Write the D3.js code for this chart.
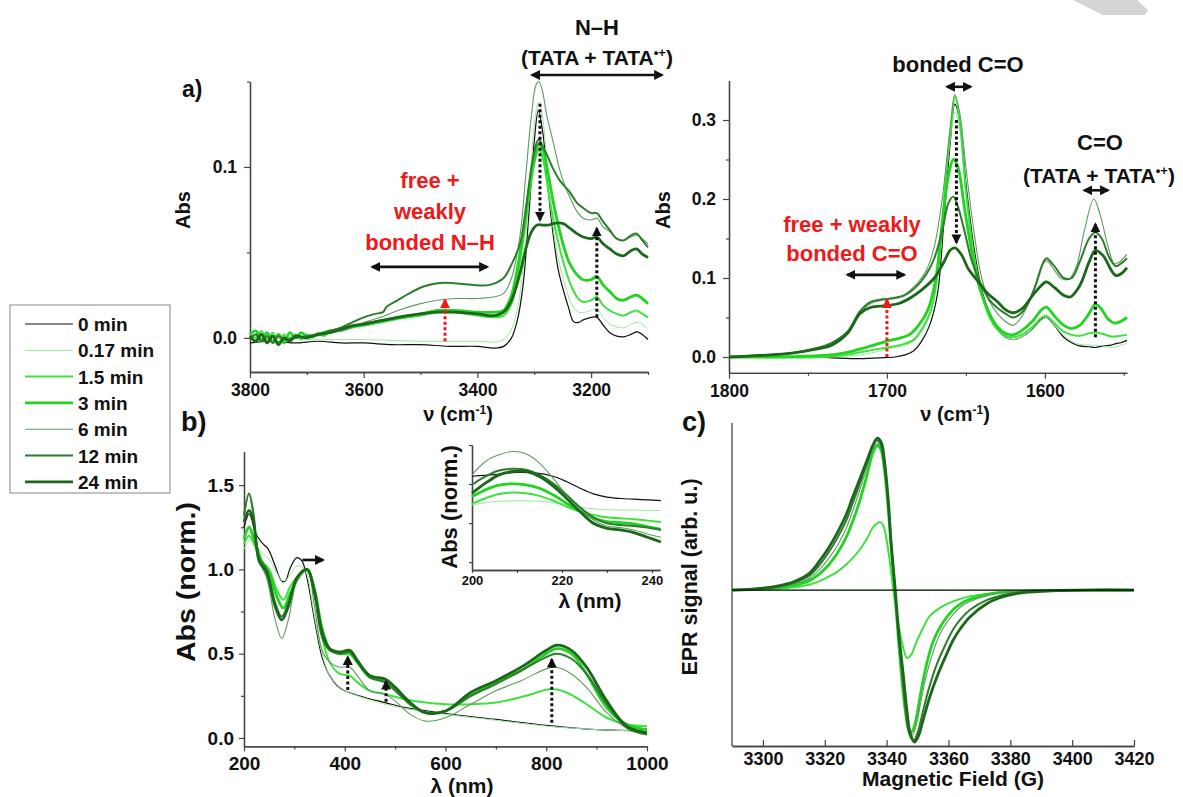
<!DOCTYPE html>
<html><head><meta charset="utf-8">
<script src="https://cdn.jsdelivr.net/npm/d3@7"></script>
<style>
body{margin:0;background:#fff}
svg text{font-family:"Liberation Sans",Arial,Helvetica,sans-serif;font-weight:bold;fill:#111}
</style></head>
<body><svg id="fig" width="1183" height="797"></svg>
<script>
// ---------- series meta ----------
const seriesNames  = ["0 min","0.17 min","1.5 min","3 min","6 min","12 min","24 min"];
const seriesColors = ["#111111","#9be89b","#3ee23e","#22d422","#5f9a5f","#2c7d2c","#1b681b"];
const seriesWidths = [1.2,1.0,2.0,2.8,1.1,2.0,2.8];

// ---------- panel a : N-H region (cm-1, Abs) ----------
const nhTicksMajor = [3800,3600,3400,3200];
const nhTicksMinor = [3700,3500,3300,3100];
const nhYTicksMajor = [0.0,0.1];
const nhYTicksMinor = [0.05,0.15];
const nh_0min = [[3800,-0.003],[3760,-0.002],[3720,-0.003],[3680,-0.002],[3640,-0.003],[3600,-0.003],[3550,-0.004],[3500,-0.004],[3450,-0.005],[3400,-0.005],[3370,-0.006],[3354,-0.005],[3340,0.0],[3330,0.01],[3320,0.03],[3310,0.07],[3300,0.115],[3293,0.133],[3285,0.12],[3275,0.085],[3267,0.061],[3258,0.04],[3249,0.028],[3240,0.018],[3231,0.0095],[3222,0.009],[3214,0.0105],[3200,0.012],[3190,0.012],[3179,0.0075],[3167,0.003],[3155,0.001],[3143,0.0006],[3130,0.002],[3120,0.0035],[3110,0.002],[3100,-0.001]];
const nh_017min = [[3800,0.002],[3770,0.0],[3740,0.001],[3700,-0.001],[3650,-0.001],[3600,-0.001],[3500,-0.002],[3400,-0.002],[3360,-0.002],[3345,0.002],[3333,0.012],[3320,0.04],[3308,0.09],[3298,0.13],[3292,0.138],[3285,0.128],[3275,0.09],[3265,0.06],[3255,0.042],[3245,0.03],[3235,0.02],[3222,0.015],[3210,0.015],[3200,0.016],[3190,0.017],[3179,0.012],[3167,0.008],[3150,0.006],[3140,0.006],[3130,0.008],[3120,0.009],[3110,0.008],[3100,0.005]];
const nh_15min = [[3800,0.003],[3790,0.0],[3780,0.004],[3770,-0.002],[3760,0.003],[3750,-0.003],[3740,0.002],[3730,-0.002],[3720,0.002],[3710,-0.001],[3700,0.002],[3690,0.0],[3680,0.003],[3670,0.001],[3660,0.004],[3640,0.004],[3620,0.006],[3600,0.007],[3570,0.009],[3540,0.011],[3500,0.013],[3470,0.015],[3440,0.015],[3400,0.013],[3370,0.012],[3354,0.013],[3340,0.02],[3325,0.045],[3310,0.08],[3300,0.102],[3292,0.11],[3285,0.105],[3275,0.085],[3267,0.07],[3255,0.052],[3245,0.04],[3237,0.032],[3225,0.024],[3214,0.021],[3200,0.022],[3190,0.024],[3179,0.019],[3167,0.016],[3155,0.014],[3143,0.013],[3130,0.015],[3120,0.016],[3110,0.014],[3100,0.012]];
const nh_3min = [[3800,0.002],[3790,0.004],[3780,-0.001],[3770,0.003],[3760,-0.002],[3750,0.002],[3740,-0.003],[3730,0.003],[3720,0.0],[3710,0.003],[3700,0.001],[3680,0.002],[3660,0.004],[3640,0.005],[3620,0.007],[3600,0.008],[3570,0.01],[3540,0.012],[3500,0.014],[3470,0.016],[3440,0.016],[3400,0.015],[3370,0.015],[3354,0.016],[3340,0.025],[3325,0.05],[3310,0.085],[3300,0.105],[3292,0.113],[3285,0.11],[3275,0.095],[3267,0.08],[3255,0.062],[3245,0.05],[3237,0.043],[3225,0.037],[3214,0.034],[3200,0.034],[3190,0.036],[3179,0.031],[3167,0.027],[3155,0.023],[3143,0.022],[3130,0.024],[3120,0.025],[3110,0.023],[3100,0.02]];
const nh_6min = [[3800,0.0],[3780,-0.002],[3760,0.001],[3740,-0.001],[3720,0.001],[3700,0.0],[3670,0.002],[3640,0.004],[3620,0.006],[3600,0.009],[3570,0.012],[3540,0.016],[3500,0.02],[3470,0.022],[3440,0.023],[3400,0.023],[3370,0.024],[3354,0.026],[3340,0.035],[3325,0.06],[3315,0.095],[3305,0.13],[3297,0.148],[3292,0.15],[3286,0.145],[3278,0.13],[3267,0.115],[3255,0.098],[3245,0.088],[3237,0.082],[3225,0.074],[3214,0.07],[3200,0.069],[3190,0.07],[3179,0.065],[3167,0.062],[3155,0.058],[3143,0.057],[3130,0.059],[3120,0.06],[3110,0.058],[3100,0.055]];
const nh_12min = [[3800,-0.001],[3790,0.002],[3780,-0.002],[3770,0.001],[3760,-0.003],[3750,0.001],[3740,-0.001],[3720,0.0],[3700,0.001],[3680,0.002],[3660,0.004],[3640,0.006],[3620,0.009],[3600,0.012],[3580,0.014],[3566,0.015],[3560,0.018],[3540,0.022],[3520,0.026],[3495,0.03],[3470,0.032],[3442,0.032],[3410,0.031],[3378,0.031],[3354,0.035],[3340,0.043],[3325,0.055],[3315,0.075],[3305,0.1],[3296,0.114],[3292,0.116],[3285,0.112],[3275,0.105],[3267,0.099],[3255,0.092],[3237,0.085],[3225,0.079],[3214,0.076],[3200,0.073],[3190,0.073],[3179,0.068],[3167,0.063],[3155,0.058],[3143,0.057],[3130,0.06],[3120,0.061],[3110,0.057],[3100,0.053]];
const nh_24min = [[3800,0.001],[3790,-0.002],[3780,0.002],[3770,-0.003],[3760,0.001],[3750,-0.004],[3740,0.0],[3730,-0.002],[3720,0.001],[3700,0.0],[3680,0.002],[3660,0.003],[3640,0.005],[3620,0.007],[3600,0.008],[3570,0.01],[3540,0.012],[3500,0.014],[3470,0.015],[3440,0.015],[3400,0.014],[3370,0.013],[3354,0.015],[3340,0.022],[3325,0.038],[3315,0.052],[3305,0.062],[3295,0.066],[3285,0.066],[3275,0.066],[3265,0.067],[3250,0.067],[3237,0.064],[3225,0.061],[3214,0.059],[3200,0.058],[3190,0.059],[3179,0.055],[3167,0.052],[3155,0.049],[3143,0.048],[3130,0.051],[3120,0.052],[3110,0.049],[3100,0.047]];
const nhCurves = [nh_0min,nh_017min,nh_15min,nh_3min,nh_6min,nh_12min,nh_24min];

// ---------- panel a right : C=O region ----------
const coTicksMajor = [1800,1700,1600];
const coTicksMinor = [1750,1650,1550];
const coYTicksMajor = [0.0,0.1,0.2,0.3];
const coYTicksMinor = [0.05,0.15,0.25];
const co_0min = [[1800,0],[1750,0],[1720,-0.002],[1705,-0.001],[1695,0.0],[1688,0.003],[1683,0.008],[1678,0.02],[1673,0.04],[1668,0.08],[1664,0.17],[1660,0.27],[1657,0.32],[1654,0.3],[1650,0.22],[1645,0.14],[1640,0.085],[1635,0.055],[1630,0.035],[1625,0.025],[1620,0.022],[1615,0.025],[1608,0.035],[1602,0.048],[1599,0.05],[1594,0.04],[1588,0.025],[1583,0.018],[1578,0.014],[1572,0.013],[1568,0.012],[1563,0.014],[1558,0.015],[1555,0.017],[1552,0.018],[1548,0.021]];
const co_017min = [[1800,0],[1740,0],[1720,0.002],[1710,0.005],[1700,0.01],[1690,0.014],[1683,0.02],[1677,0.035],[1672,0.06],[1667,0.12],[1663,0.22],[1659,0.29],[1657,0.31],[1654,0.29],[1650,0.21],[1645,0.13],[1640,0.08],[1635,0.05],[1630,0.033],[1625,0.025],[1620,0.022],[1615,0.025],[1608,0.035],[1602,0.047],[1599,0.05],[1594,0.04],[1588,0.027],[1583,0.02],[1578,0.016],[1572,0.015],[1568,0.015],[1563,0.014],[1558,0.012],[1555,0.013],[1552,0.015],[1548,0.017]];
const co_15min = [[1800,0],[1740,0],[1725,0.003],[1712,0.008],[1700,0.012],[1690,0.016],[1683,0.022],[1678,0.035],[1672,0.06],[1667,0.12],[1663,0.22],[1659,0.3],[1657,0.33],[1654,0.3],[1650,0.21],[1645,0.13],[1640,0.08],[1635,0.05],[1630,0.035],[1625,0.027],[1620,0.025],[1615,0.028],[1608,0.038],[1602,0.05],[1599,0.052],[1594,0.043],[1588,0.032],[1583,0.028],[1578,0.027],[1572,0.03],[1568,0.031],[1563,0.029],[1558,0.026],[1555,0.026],[1552,0.027],[1548,0.028]];
const co_3min = [[1800,0],[1740,0.002],[1725,0.006],[1712,0.013],[1700,0.02],[1692,0.024],[1686,0.028],[1680,0.04],[1674,0.06],[1669,0.1],[1665,0.17],[1661,0.23],[1658,0.25],[1655,0.24],[1651,0.19],[1646,0.13],[1641,0.085],[1635,0.055],[1630,0.038],[1625,0.03],[1620,0.028],[1615,0.033],[1608,0.045],[1602,0.06],[1599,0.063],[1594,0.052],[1588,0.04],[1583,0.036],[1578,0.04],[1572,0.055],[1568,0.067],[1564,0.06],[1560,0.048],[1556,0.043],[1552,0.045],[1548,0.05]];
const co_6min = [[1800,0],[1780,0.002],[1760,0.005],[1745,0.01],[1735,0.017],[1725,0.03],[1717,0.055],[1710,0.068],[1703,0.072],[1697,0.075],[1690,0.078],[1685,0.085],[1680,0.095],[1675,0.11],[1670,0.14],[1665,0.2],[1660,0.29],[1657,0.332],[1654,0.31],[1650,0.24],[1645,0.16],[1640,0.1],[1635,0.07],[1630,0.055],[1625,0.045],[1620,0.04],[1615,0.05],[1608,0.08],[1602,0.115],[1599,0.122],[1594,0.11],[1590,0.1],[1585,0.098],[1580,0.115],[1575,0.16],[1569,0.2],[1565,0.18],[1560,0.14],[1556,0.118],[1553,0.12],[1548,0.13]];
const co_12min = [[1800,0],[1780,0.002],[1760,0.005],[1745,0.011],[1735,0.018],[1725,0.032],[1717,0.058],[1710,0.07],[1703,0.073],[1697,0.074],[1690,0.077],[1685,0.083],[1680,0.092],[1675,0.105],[1670,0.125],[1665,0.16],[1661,0.195],[1658,0.203],[1655,0.19],[1651,0.16],[1646,0.12],[1640,0.09],[1635,0.072],[1630,0.062],[1625,0.055],[1620,0.05],[1613,0.06],[1606,0.09],[1601,0.12],[1599,0.125],[1594,0.115],[1588,0.1],[1583,0.1],[1578,0.12],[1572,0.15],[1568,0.158],[1564,0.15],[1559,0.125],[1555,0.115],[1552,0.118],[1548,0.125]];
const co_24min = [[1800,0],[1780,0.002],[1760,0.005],[1745,0.01],[1735,0.015],[1725,0.03],[1717,0.055],[1710,0.063],[1700,0.065],[1692,0.068],[1685,0.075],[1678,0.085],[1670,0.1],[1664,0.12],[1660,0.135],[1657,0.138],[1653,0.13],[1648,0.11],[1642,0.095],[1636,0.08],[1630,0.07],[1625,0.06],[1620,0.056],[1614,0.062],[1607,0.08],[1601,0.093],[1599,0.095],[1594,0.088],[1588,0.078],[1584,0.076],[1578,0.09],[1572,0.12],[1568,0.135],[1563,0.128],[1558,0.11],[1555,0.103],[1552,0.105],[1548,0.113]];
const coCurves = [co_0min,co_017min,co_15min,co_3min,co_6min,co_12min,co_24min];

// ---------- panel b : UV-vis-NIR (nm, norm. Abs) ----------
const uvTicksMajor = [200,400,600,800,1000];
const uvTicksMinor = [300,500,700,900];
const uvYTicksMajor = [0.0,0.5,1.0,1.5];
const uvYTicksMinor = [0.25,0.75,1.25];
const uv_0min = [[200,1.25],[205,1.3],[210,1.33],[215,1.3],[222,1.22],[235,1.16],[248,1.12],[262,1.02],[275,0.93],[282,0.93],[292,1.01],[305,1.07],[315,1.05],[325,0.95],[340,0.7],[355,0.48],[370,0.37],[385,0.31],[400,0.28],[440,0.24],[480,0.21],[520,0.18],[600,0.145],[700,0.11],[800,0.075],[870,0.055],[900,0.05],[950,0.045],[1000,0.04]];
const uv_017min = [[200,1.12],[210,1.17],[220,1.16],[235,1.1],[250,1.06],[265,0.98],[278,0.92],[290,0.96],[305,1.02],[318,1.01],[325,0.97],[340,0.72],[355,0.5],[370,0.37],[385,0.31],[400,0.28],[440,0.235],[480,0.2],[520,0.175],[600,0.14],[700,0.105],[800,0.07],[900,0.05],[1000,0.04]];
const uv_15min = [[200,1.15],[210,1.2],[220,1.15],[235,1.05],[250,1.0],[265,0.88],[278,0.82],[292,0.9],[310,0.97],[325,1.0],[340,0.85],[355,0.6],[370,0.45],[390,0.38],[410,0.37],[425,0.33],[450,0.28],[480,0.26],[520,0.23],[560,0.21],[600,0.2],[650,0.2],[700,0.21],[760,0.25],[810,0.29],[840,0.27],[880,0.2],[920,0.12],[960,0.08],[1000,0.07]];
const uv_3min = [[200,1.18],[210,1.25],[220,1.18],[235,1.05],[250,0.98],[265,0.84],[278,0.77],[292,0.86],[310,0.96],[325,1.0],[340,0.88],[355,0.65],[370,0.53],[390,0.5],[410,0.5],[425,0.45],[450,0.36],[480,0.34],[500,0.3],[530,0.2],[560,0.15],[600,0.16],[650,0.25],[700,0.33],[750,0.4],[800,0.5],[820,0.53],[850,0.5],[880,0.38],[920,0.18],[960,0.08],[1000,0.05]];
const uv_6min = [[200,1.3],[210,1.45],[218,1.32],[230,1.05],[245,0.95],[262,0.7],[275,0.59],[288,0.7],[305,0.93],[325,1.0],[340,0.78],[355,0.52],[370,0.45],[390,0.42],[410,0.42],[425,0.37],[450,0.28],[480,0.26],[500,0.22],[530,0.14],[560,0.1],[600,0.12],[650,0.2],[700,0.28],[750,0.34],[800,0.41],[820,0.42],[850,0.38],[880,0.3],[920,0.15],[960,0.06],[1000,0.03]];
const uv_12min = [[200,1.32],[210,1.45],[218,1.35],[230,1.07],[245,1.0],[262,0.8],[275,0.72],[288,0.8],[305,0.95],[325,1.0],[340,0.85],[355,0.6],[370,0.52],[390,0.5],[410,0.51],[425,0.45],[450,0.36],[480,0.33],[500,0.28],[530,0.2],[560,0.15],[600,0.16],[650,0.25],[700,0.32],[750,0.4],[800,0.48],[820,0.5],[850,0.47],[880,0.38],[920,0.2],[960,0.06],[1000,0.02]];
const uv_24min = [[200,1.28],[210,1.35],[218,1.3],[230,1.05],[245,0.98],[262,0.78],[275,0.7],[288,0.78],[305,0.95],[325,1.0],[340,0.87],[355,0.63],[370,0.53],[390,0.51],[410,0.52],[425,0.46],[450,0.37],[480,0.35],[500,0.3],[530,0.21],[560,0.15],[600,0.16],[650,0.27],[700,0.34],[750,0.42],[800,0.52],[820,0.55],[850,0.52],[880,0.42],[920,0.22],[960,0.07],[1000,0.03]];
const uvCurves = [uv_0min,uv_017min,uv_15min,uv_3min,uv_6min,uv_12min,uv_24min];

// ---------- inset (200-242 nm) ----------
const insTicksMajor = [200,220,240];
const insTicksMinor = [210,230];
const insYTicks = [0.5,1.0,1.5,2.0];
const ins_0min = [[200,1.6],[205,1.62],[210,1.648],[214,1.642],[218,1.6],[221,1.532],[224,1.447],[227,1.374],[230,1.332],[233,1.315],[236,1.306],[239,1.297],[242,1.289]];
const ins_017min = [[200,1.233],[205,1.276],[210,1.285],[215,1.28],[220,1.246],[224,1.203],[228,1.178],[232,1.169],[236,1.165],[242,1.161]];
const ins_15min = [[200,1.246],[203,1.319],[206,1.374],[209,1.391],[212,1.383],[215,1.349],[218,1.289],[221,1.212],[224,1.148],[227,1.105],[230,1.075],[233,1.062],[236,1.05],[239,1.032],[242,1.015]];
const ins_3min = [[200,1.34],[203,1.426],[206,1.485],[209,1.503],[212,1.49],[215,1.447],[218,1.362],[221,1.255],[224,1.148],[227,1.062],[230,1.02],[233,1.007],[236,0.99],[239,0.956],[242,0.921]];
const ins_6min = [[200,1.618],[203,1.789],[206,1.874],[209,1.917],[212,1.887],[215,1.768],[218,1.575],[221,1.362],[224,1.19],[227,1.041],[230,0.964],[233,0.943],[236,0.913],[239,0.862],[242,0.819]];
const ins_12min = [[200,1.49],[203,1.597],[206,1.674],[209,1.695],[212,1.682],[215,1.618],[218,1.511],[221,1.362],[224,1.203],[227,1.075],[230,0.998],[233,0.977],[236,0.964],[239,0.943],[242,0.913]];
const ins_24min = [[200,1.383],[203,1.511],[206,1.618],[209,1.661],[212,1.661],[215,1.597],[218,1.477],[221,1.319],[224,1.148],[227,0.998],[230,0.934],[233,0.913],[236,0.879],[239,0.819],[242,0.759]];
const insCurves = [ins_0min,ins_017min,ins_15min,ins_3min,ins_6min,ins_12min,ins_24min];

// ---------- panel c : EPR (G, arb.) ----------
const eprTicks = [3300,3320,3340,3360,3380,3400,3420];
const epr_0min = [[3290,0],[3420,0]];
const epr_017min = [[3290,0],[3420,0]];
const epr_15min = [[3290,0],[3300,0.004],[3305,0.009],[3310,0.018],[3315,0.035],[3318.5,0.06],[3321,0.085],[3324,0.12],[3327,0.17],[3329,0.21],[3331.5,0.27],[3333.7,0.34],[3335.5,0.41],[3337,0.44],[3338,0.447],[3339,0.42],[3340,0.33],[3341,0.19],[3342,0.03],[3343,-0.12],[3344.4,-0.285],[3345.5,-0.39],[3346.6,-0.447],[3347.8,-0.43],[3349.9,-0.33],[3352,-0.24],[3354,-0.17],[3357,-0.12],[3361.5,-0.075],[3366,-0.045],[3372.5,-0.025],[3380,-0.01],[3390,-0.004],[3400,0],[3420,0]];
const epr_3min = [[3290,0],[3300,0.006],[3305,0.014],[3310,0.03],[3315,0.062],[3318.5,0.11],[3321,0.16],[3324,0.24],[3327,0.35],[3329,0.45],[3331.5,0.6],[3333.7,0.76],[3335.5,0.9],[3337,0.95],[3338.2,0.92],[3339.3,0.79],[3340.5,0.54],[3341.5,0.27],[3342.6,0],[3343.8,-0.32],[3345,-0.6],[3346.2,-0.82],[3347.2,-0.92],[3348.2,-0.93],[3349.5,-0.85],[3351,-0.68],[3352.8,-0.5],[3355,-0.34],[3358,-0.22],[3361.5,-0.13],[3364,-0.09],[3367,-0.06],[3372.5,-0.03],[3377.7,-0.014],[3385,-0.005],[3395,-0.002],[3405,0],[3420,0]];
const epr_6min = [[3290,0],[3300,0.008],[3305,0.018],[3310,0.038],[3315,0.078],[3318.5,0.14],[3321,0.2],[3324,0.29],[3327,0.41],[3329,0.52],[3331.5,0.67],[3333.7,0.81],[3335.5,0.93],[3337,0.965],[3338.2,0.93],[3339.3,0.8],[3340.5,0.55],[3341.5,0.28],[3342.6,0],[3343.8,-0.32],[3345,-0.6],[3346.2,-0.83],[3347.3,-0.94],[3348.4,-0.95],[3349.7,-0.88],[3351.2,-0.72],[3353,-0.55],[3355.5,-0.38],[3358,-0.26],[3361.5,-0.16],[3364,-0.11],[3367,-0.075],[3372.5,-0.037],[3377.7,-0.018],[3385,-0.006],[3395,-0.002],[3405,0],[3420,0]];
const epr_12min = [[3290,0],[3295,0.003],[3300,0.01],[3305,0.024],[3310,0.048],[3315,0.095],[3318.5,0.17],[3321,0.24],[3324,0.34],[3327,0.46],[3329,0.57],[3331.5,0.71],[3333.7,0.84],[3335.5,0.95],[3336.8,0.985],[3338,0.96],[3339.2,0.84],[3340.4,0.6],[3341.5,0.3],[3342.7,0],[3343.9,-0.3],[3345.2,-0.58],[3346.3,-0.8],[3347.4,-0.95],[3348.7,-0.99],[3350,-0.94],[3351.5,-0.82],[3353.5,-0.66],[3356,-0.5],[3359,-0.36],[3361.5,-0.26],[3364,-0.19],[3367,-0.13],[3372.5,-0.065],[3377.7,-0.032],[3383,-0.015],[3389,-0.007],[3395,-0.003],[3405,0],[3420,0]];
const epr_24min = [[3290,0],[3295,0.004],[3300,0.012],[3305,0.028],[3310,0.055],[3315,0.11],[3318.5,0.197],[3321,0.27],[3324,0.375],[3327,0.5],[3329,0.61],[3331.5,0.74],[3333.7,0.855],[3335.5,0.95],[3337,1.0],[3338.3,0.97],[3339.3,0.85],[3340.5,0.6],[3341.5,0.3],[3342.8,0],[3344,-0.3],[3345.4,-0.56],[3346.5,-0.78],[3347.6,-0.94],[3349,-1.0],[3350.3,-0.96],[3351.8,-0.855],[3354,-0.7],[3356.3,-0.57],[3359,-0.44],[3361.5,-0.33],[3364,-0.25],[3367,-0.175],[3372.5,-0.088],[3377.7,-0.044],[3383,-0.02],[3389,-0.01],[3395,-0.004],[3405,0],[3420,0]];
const eprCurves = [epr_0min,epr_017min,epr_15min,epr_3min,epr_6min,epr_12min,epr_24min];

// ---------- drawing ----------
const svg = d3.select("#fig");
const defs = svg.append("defs");
function marker(id, color){
  defs.append("marker").attr("id",id).attr("viewBox","0 0 10 10").attr("refX",8).attr("refY",5)
    .attr("markerUnits","userSpaceOnUse").attr("markerWidth",10).attr("markerHeight",10)
    .attr("orient","auto-start-reverse")
    .append("path").attr("d","M0,0L10,5L0,10z").attr("fill",color);
}
marker("ahK","#111"); marker("ahR","#f01818");

// faint watermark fragment (top right corner of the page)
svg.append("polygon").attr("points","1073,0 1137,0 1148,10 1145,15 1103,15").attr("fill","#d4d4d4");

const AX = "#444";
function styleAxis(g, fs){
  g.select(".domain").attr("stroke",AX).attr("stroke-width",1.3);
  g.selectAll(".tick line").attr("stroke",AX).attr("stroke-width",1.2);
  g.selectAll(".tick text").attr("font-size",fs).attr("fill","#111")
    .attr("font-family","'Liberation Sans',Arial,sans-serif").attr("font-weight","bold");
}
function drawAxes(x, y, o){
  const ay = y.range()[0], ax = x.range()[0];
  const gxm = svg.append("g").attr("transform",`translate(0,${ay})`)
    .call(d3.axisBottom(x).tickValues(o.xMinor||[]).tickSize(o.xMinorSize||3).tickSizeOuter(0).tickFormat(""));
  styleAxis(gxm,o.fs);
  const gx = svg.append("g").attr("transform",`translate(0,${ay})`)
    .call(d3.axisBottom(x).tickValues(o.xMajor).tickSize(o.xTick===undefined?6:o.xTick).tickSizeOuter(0)
      .tickPadding(o.xPad||6).tickFormat(o.xFmt||d3.format("d")));
  styleAxis(gx,o.fs);
  if(o.yNone){
    svg.append("line").attr("x1",ax).attr("x2",ax).attr("y1",y.range()[0]).attr("y2",y.range()[1])
      .attr("stroke",AX).attr("stroke-width",1.3);
    return;
  }
  const gym = svg.append("g").attr("transform",`translate(${ax},0)`)
    .call(d3.axisLeft(y).tickValues(o.yMinor||[]).tickSize(3).tickSizeOuter(0).tickFormat(""));
  styleAxis(gym,o.fs);
  const gy = svg.append("g").attr("transform",`translate(${ax},0)`)
    .call(d3.axisLeft(y).tickValues(o.yMajor||[]).tickSize(o.yTick||6).tickSizeOuter(0)
      .tickPadding(o.yPad||6).tickFormat(o.yFmt||d3.format(".1f")));
  styleAxis(gy,o.fs);
}
function drawCurves(x, y, curves, order){
  const ln = d3.line().x(d=>x(d[0])).y(d=>y(d[1])).curve(d3.curveCatmullRom.alpha(0.5));
  const g = svg.append("g");
  order.forEach(i=>{
    g.append("path").attr("d",ln(curves[i])).attr("fill","none")
      .attr("stroke",seriesColors[i]).attr("stroke-width",seriesWidths[i])
      .attr("stroke-linejoin","round");
  });
}
function text(x,y,str,o={}){
  const t = svg.append("text").attr("x",x).attr("y",y).attr("font-size",o.fs||20)
    .attr("text-anchor",o.anchor||"middle").text(str);
  if(o.fill) t.style("fill",o.fill);
  if(o.rot) t.attr("transform",`rotate(${o.rot},${x},${y})`);
  if(o.len) t.attr("textLength",o.len).attr("lengthAdjust","spacingAndGlyphs");
  return t;
}
function nuLabel(x,y,fs){
  const t = svg.append("text").attr("x",x).attr("y",y).attr("font-size",fs).attr("text-anchor","middle");
  t.append("tspan").text("ν (cm");
  t.append("tspan").attr("dy",-7).attr("font-size",fs*0.6).text("-1");
  t.append("tspan").attr("dy",7).text(")");
}
function tataLabel(x,y,fs){
  const t = svg.append("text").attr("x",x).attr("y",y).attr("font-size",fs).attr("text-anchor","middle");
  t.append("tspan").text("(TATA + TATA");
  t.append("tspan").attr("dy",-8).attr("font-size",fs*0.62).text("•+");
  t.append("tspan").attr("dy",8).text(")");
}
function arrow(x,y,p0,p1,o={}){
  const l = svg.append("line").attr("x1",x(p0[0])).attr("y1",y(p0[1])).attr("x2",x(p1[0])).attr("y2",y(p1[1]))
    .attr("stroke",o.color||"#111").attr("stroke-width",o.w||2.6)
    .attr("marker-end",`url(#${o.m||"ahK"})`);
  if(o.dash) l.attr("stroke-dasharray",o.dash);
  if(o.both) l.attr("marker-start",`url(#${o.m||"ahK"})`);
}

const drawOrder = [0,1,2,3,4,5,6];

// ===== panel a (N-H) =====
const xa = d3.scaleLinear().domain([3800,3100]).range([250,648]);
const ya = d3.scaleLinear().domain([-0.02,0.15]).range([372,81.5]);
drawAxes(xa,ya,{xMajor:nhTicksMajor,xMinor:nhTicksMinor,yMajor:nhYTicksMajor,yMinor:nhYTicksMinor,fs:17.5,xPad:6,yPad:7});
drawCurves(xa,ya,nhCurves,drawOrder);
text(190,210,"Abs",{fs:20,rot:-90});
nuLabel(458,421,20);
text(182,97,"a)",{fs:23,anchor:"start"});
text(597,35,"N–H",{fs:22});
tataLabel(597,65,21);
arrow(xa,ya,[3304,0.1538],[3075,0.1538],{both:true});
text(430,188,"free +",{fs:22,fill:"#f01818"});
text(430,219,"weakly",{fs:22,fill:"#f01818"});
text(430,250,"bonded N–H",{fs:22,fill:"#f01818"});
arrow(xa,ya,[3585,0.0415],[3383,0.0415],{both:true});
arrow(xa,ya,[3457,-0.002],[3457,0.022],{color:"#f01818",m:"ahR",dash:"3,2.5",w:3});
arrow(xa,ya,[3290,0.137],[3290,0.069],{dash:"3,2.5",w:3});
arrow(xa,ya,[3190,0.012],[3190,0.064],{dash:"3,2.5",w:3});

// ===== panel a right (C=O) =====
const xr = d3.scaleLinear().domain([1800,1548]).range([729,1127]);
const yr = d3.scaleLinear().domain([-0.02,0.35]).range([372.8,80.5]);
drawAxes(xr,yr,{xMajor:coTicksMajor,xMinor:coTicksMinor,yMajor:coYTicksMajor,yMinor:coYTicksMinor,fs:17.5,xPad:6,yPad:7});
drawCurves(xr,yr,coCurves,drawOrder);
text(670,210,"Abs",{fs:20,rot:-90});
nuLabel(955,421,20);
text(958,72,"bonded C=O",{fs:22});
arrow(xr,yr,[1662,0.342],[1647,0.342],{both:true});
text(1100,150,"C=O",{fs:22});
tataLabel(1099,183,21);
arrow(xr,yr,[1575,0.211],[1560,0.211],{both:true});
text(852,232,"free + weakly",{fs:22,fill:"#f01818"});
text(852,261,"bonded C=O",{fs:22,fill:"#f01818"});
arrow(xr,yr,[1725,0.104],[1689,0.104],{both:true});
arrow(xr,yr,[1700,0.0],[1700,0.072],{color:"#f01818",m:"ahR",dash:"3,2.5",w:3});
arrow(xr,yr,[1656,0.3],[1656,0.145],{dash:"3,2.5",w:3});
arrow(xr,yr,[1568,0.025],[1568,0.168],{dash:"3,2.5",w:3});

// ===== panel b =====
const xb = d3.scaleLinear().domain([200,1000]).range([244,647]);
const yb = d3.scaleLinear().domain([-0.05,1.7]).range([746.4,451.4]);
drawAxes(xb,yb,{xMajor:uvTicksMajor,xMinor:uvTicksMinor,yMajor:uvYTicksMajor,yMinor:uvYTicksMinor,fs:19,xTick:5,xPad:5.5,yTick:5,yPad:5});
drawCurves(xb,yb,uvCurves,drawOrder);
text(195,582,"Abs (norm.)",{fs:25,rot:-90,len:160});
text(462,793,"λ (nm)",{fs:21});
text(181,431,"b)",{fs:27,anchor:"start"});
arrow(xb,yb,[316,1.056],[357,1.056],{w:2.6});
arrow(xb,yb,[406,0.285],[406,0.48],{dash:"3,2.5",w:3});
arrow(xb,yb,[482,0.215],[482,0.335],{dash:"3,2.5",w:3});
arrow(xb,yb,[811,0.09],[811,0.465],{dash:"3,2.5",w:3});

// ===== inset =====
const xi = d3.scaleLinear().domain([200,241.8]).range([472,660]);
const yi = d3.scaleLinear().domain([0.4,2.0]).range([570,445]);
drawAxes(xi,yi,{xMajor:insTicksMajor,xMinor:insTicksMinor,yMajor:insYTicks,yMinor:[],yFmt:()=>"",fs:13,xTick:3,xPad:3,yTick:3});
drawCurves(xi,yi,insCurves,drawOrder);
text(457,507,"Abs (norm.)",{fs:22,rot:-90});
text(590,608,"λ (nm)",{fs:21});

// ===== panel c =====
const xc = d3.scaleLinear().domain([3290,3420]).range([732,1134]);
const yc = d3.scaleLinear().domain([-1.026,1.099]).range([746,423]);
drawAxes(xc,yc,{xMajor:eprTicks,xMinor:[],xTick:-6,xPad:6,yNone:true,fs:18});
drawCurves(xc,yc,eprCurves,[1,2,3,4,5,6,0]);
text(697,577,"EPR signal (arb. u.)",{fs:21.5,rot:-90});
text(953,786,"Magnetic Field (G)",{fs:21});
text(682,431,"c)",{fs:27,anchor:"start"});

// ===== legend =====
svg.append("rect").attr("x",10).attr("y",305).attr("width",160).attr("height",188)
  .attr("fill","#fff").attr("stroke","#999").attr("stroke-width",1.2);
const leg = svg.append("g");
seriesNames.forEach((n,i)=>{
  const cy = 324 + i*26.3;
  leg.append("line").attr("x1",25).attr("x2",73).attr("y1",cy).attr("y2",cy)
    .attr("stroke",seriesColors[i]).attr("stroke-width",seriesWidths[i]);
  leg.append("text").attr("x",78).attr("y",cy+7).attr("font-size",19).text(n);
});
</script></body></html>
